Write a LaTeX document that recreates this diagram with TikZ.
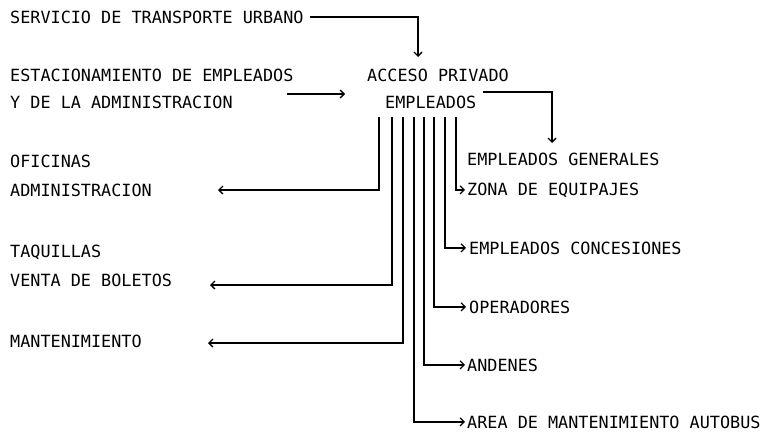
\documentclass[tikz,border=0pt]{standalone}
\usepackage{fontspec}
\setmonofont{DejaVu Sans Mono}
\usetikzlibrary{
    positioning,
    arrows.meta,
    calc
}
\newcommand{\lblfont}{\ttfamily\fontsize{16.8}{20}\selectfont}
\tikzset{
    lbl/.style={anchor=base west, inner sep=0pt, font=\lblfont},
    flow/.style={-{Straight Barb[length=4pt,width=8pt]}, line width=1.3pt}
}

\begin{document}
\begin{tikzpicture}[x=1pt,y=-1pt]
    \useasboundingbox (0,0) rectangle (765,434);

    % Inputs
    \node[lbl] (servicio) at (10,23) {SERVICIO DE TRANSPORTE URBANO};
    \node[lbl] (estac) at (10,81) {ESTACIONAMIENTO DE EMPLEADOS};
    \node[lbl] (ydela) at (10,108) {Y DE LA ADMINISTRACION};

    % Access
    \node[lbl] (acceso) at (367,81) {ACCESO PRIVADO};
    \node[lbl] (empl) at (385,108) {EMPLEADOS};

    % Left destinations
    \node[lbl] (oficinas) at (10,167) {OFICINAS};
    \node[lbl] (admin) at (10,196) {ADMINISTRACION};
    \node[lbl] (taquillas) at (10,257) {TAQUILLAS};
    \node[lbl] (venta) at (10,286) {VENTA DE BOLETOS};
    \node[lbl] (mant) at (10,347) {MANTENIMIENTO};

    % Right destinations
    \node[lbl] (generales) at (467,165) {EMPLEADOS GENERALES};
    \node[lbl] (zona) at (467,195) {ZONA DE EQUIPAJES};
    \node[lbl] (concesiones) at (469,254) {EMPLEADOS CONCESIONES};
    \node[lbl] (operadores) at (469,313) {OPERADORES};
    \node[lbl] (andenes) at (467,371) {ANDENES};
    \node[lbl] (area) at (467,428) {AREA DE MANTENIMIENTO AUTOBUS};

    % Free ends
    \coordinate (in-acceso) at (418,57);
    \coordinate (e-start) at (287,94);
    \coordinate (e-end) at (345,94);
    \coordinate (g-start) at (483,92);
    \coordinate (g-end) at (552,143);
    \coordinate (t-ofi) at (218,190);
    \coordinate (t-taq) at (210,285);
    \coordinate (t-man) at (208,343);

    % Tops of the bundle
    \foreach \n/\x in {ofi/379, taq/392, man/403, are/414, and/424, ope/434, con/445, zon/456}
        \coordinate (s-\n) at (\x,117);

    % Arrows in
    \draw[flow] ([xshift=6pt]servicio.east) -| (in-acceso);
    \draw[flow] (e-start) -- (e-end);
    \draw[flow] (g-start) -| (g-end);

    % Bundle to the left
    \draw[flow] (s-ofi) |- (t-ofi);
    \draw[flow] (s-taq) |- (t-taq);
    \draw[flow] (s-man) |- (t-man);

    % Bundle to the right
    \draw[flow] (s-zon) |- ([xshift=-2pt]zona.west);
    \draw[flow] (s-con) |- ([xshift=-3pt]concesiones.west);
    \draw[flow] (s-ope) |- ([xshift=-3pt]operadores.west);
    \draw[flow] (s-and) |- ([xshift=-2pt]andenes.west);
    \draw[flow] (s-are) |- ([xshift=-2pt]area.west);
\end{tikzpicture}
\end{document}
